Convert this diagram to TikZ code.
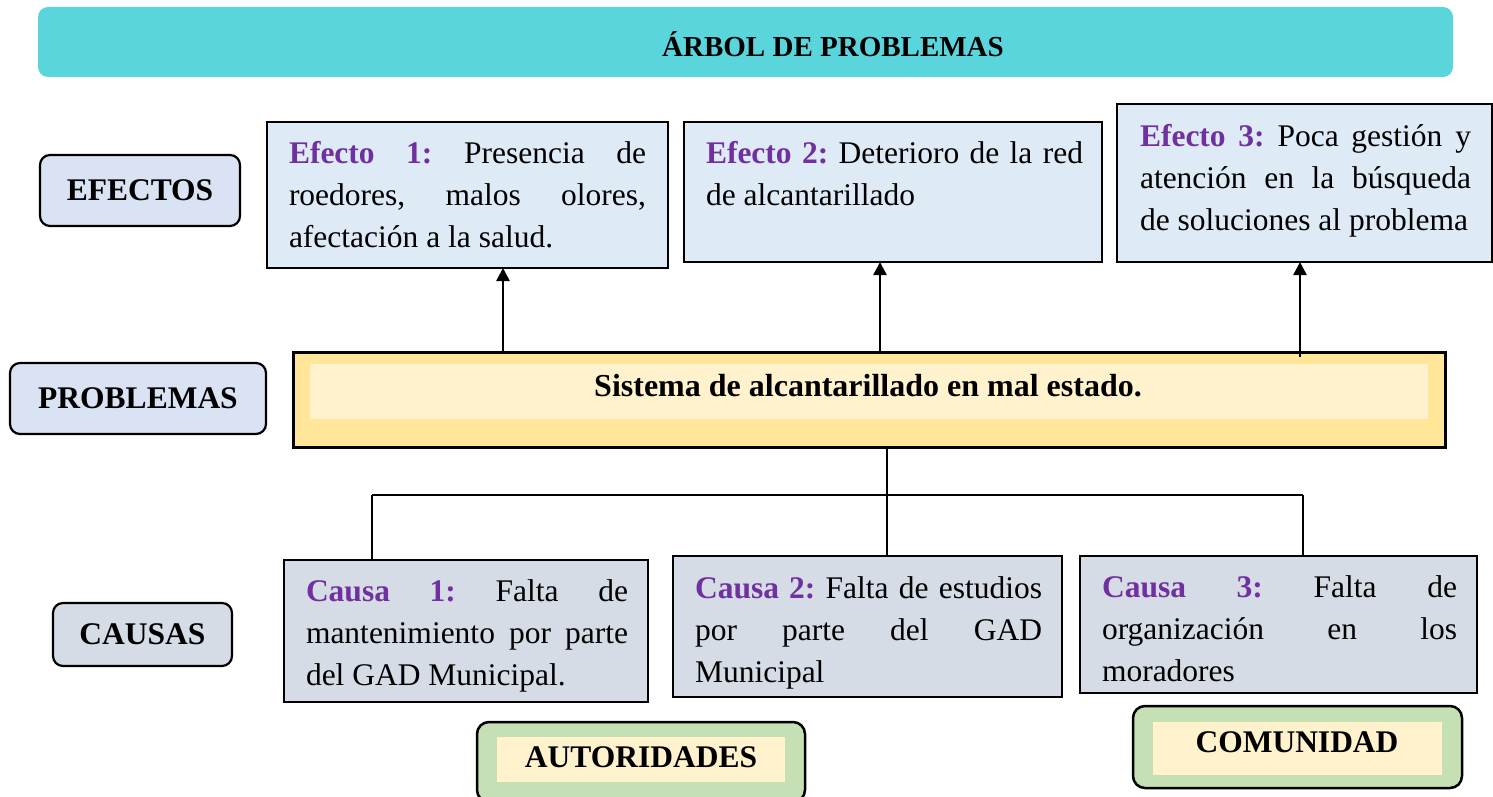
\documentclass[tikz,border=0pt]{standalone}
\usepackage{fontspec}
\setmainfont{Liberation Serif}
\usetikzlibrary{arrows.meta,calc}
\definecolor{titlec}{HTML}{5BD5DC}
\definecolor{lblue}{HTML}{DAE3F3}
\definecolor{effc}{HTML}{DEEBF7}
\definecolor{causc}{HTML}{D6DCE5}
\definecolor{yelo}{HTML}{FFE699}
\definecolor{yeli}{HTML}{FFF2CC}
\definecolor{grn}{HTML}{C5E0B4}
\definecolor{purp}{HTML}{7030A0}
\frenchspacing
\begin{document}
\begin{tikzpicture}[x=1pt,y=-1pt,
  every node/.style={inner sep=0pt, outer sep=0pt},
  fnt/.style={font=\fontsize{31.5}{42}\selectfont},
  labbox/.style={draw, line width=2.2pt, rounded corners=10pt, fill=lblue, font=\fontsize{31.5}{42}\selectfont\bfseries},
  effbox/.style={draw, line width=2.5pt, fill=effc},
  causbox/.style={draw, line width=2.5pt, fill=causc},
  txt/.style={fnt, align=justify, anchor=north west},
  grnbox/.style={draw, line width=2.5pt, rounded corners=12pt, fill=grn},
  inbox/.style={fill=yeli},
  arr/.style={line width=2.5pt, -{Triangle[width=13pt,length=13pt]}},
  conn/.style={line width=2.5pt}
]
\useasboundingbox (0,0) rectangle (1493,797);
\clip (0,0) rectangle (1493,797);
\fill[white] (0,0) rectangle (1493,797);

% title
\node[fill=titlec, rounded corners=10pt, minimum width=1415pt, minimum height=70pt] (title) at (745.5,42) {};
\node[font=\fontsize{29}{34}\selectfont\bfseries] (titletxt) at (833,44) {ÁRBOL DE PROBLEMAS};

% left labels
\node[labbox, minimum width=200pt, minimum height=71pt] (lefe) at (140,190.5) {EFECTOS};
\node[labbox, minimum width=256pt, minimum height=71pt] (lpro) at (138,398.5) {PROBLEMAS};
\node[labbox, fill=causc, minimum width=179pt, minimum height=63pt] (lcau) at (142.5,634.5) {CAUSAS};

% effects
\node[effbox, minimum width=401pt, minimum height=146pt] (e1) at (467.5,195) {};
\node[effbox, minimum width=418pt, minimum height=140pt] (e2) at (893,192) {};
\node[effbox, minimum width=375pt, minimum height=158pt] (e3) at (1304.5,183) {};
\node[txt, text width=357pt] (e1t) at (289,141.5) {\textcolor{purp}{\textbf{Efecto 1:}} Presencia de\linebreak roedores, malos olores,\linebreak afectación a la salud.};
\node[txt, text width=377pt] (e2t) at (706,141.5) {\textcolor{purp}{\textbf{Efecto 2:}} Deterioro de la red\linebreak de alcantarillado};
\node[txt, text width=331pt] (e3t) at (1140,124) {\textcolor{purp}{\textbf{Efecto 3:}} Poca gestión y\linebreak atención en la búsqueda\linebreak de soluciones al problema};

% problem
\node[draw, line width=3pt, fill=yelo, minimum width=1152pt, minimum height=95pt] (prob) at (869,399.5) {};
\node[inbox, minimum width=1118pt, minimum height=55pt] (probin) at (869,391.5) {};
\node[font=\fontsize{32}{38}\selectfont\bfseries] (probt) at (868,386) {Sistema de alcantarillado en mal estado.};

% causes
\node[causbox, minimum width=364pt, minimum height=142pt] (c1) at (466,631) {};
\node[causbox, minimum width=389pt, minimum height=141pt] (c2) at (867.5,626.5) {};
\node[causbox, minimum width=397pt, minimum height=137pt] (c3) at (1278.5,624.5) {};
\node[txt, text width=322pt] (c1t) at (306,580) {\textcolor{purp}{\textbf{Causa 1:}} Falta de\linebreak mantenimiento por parte\linebreak del GAD Municipal.};
\node[txt, text width=347pt] (c2t) at (695,577) {\textcolor{purp}{\textbf{Causa 2:}} Falta de estudios\linebreak por parte del GAD\linebreak Municipal};
\node[txt, text width=355pt] (c3t) at (1102,576) {\textcolor{purp}{\textbf{Causa 3:}} Falta de\linebreak organización en los\linebreak moradores};

% bottom groups
\node[grnbox, minimum width=328pt, minimum height=80pt] (aut) at (641,762) {};
\node[inbox, minimum width=288pt, minimum height=45pt] (autin) at (641,759.5) {};
\node[font=\fontsize{31.5}{38}\selectfont\bfseries] (autt) at (641,757) {AUTORIDADES};
\node[grnbox, minimum width=329pt, minimum height=82pt] (com) at (1297.5,747) {};
\node[inbox, minimum width=289pt, minimum height=53pt] (comin) at (1297.5,748.5) {};
\node[font=\fontsize{31.5}{38}\selectfont\bfseries] (comt) at (1297,742) {COMUNIDAD};

% arrows from problem to effects
\coordinate (a1) at (503,351);
\coordinate (a2) at (880,351);
\coordinate (a3) at (1300,357);
\draw[arr] (a1) -- (a1 |- e1.south);
\draw[arr] (a2) -- (a2 |- e2.south);
\draw[arr] (a3) -- (a3 |- e3.south);

% tree to causes
\coordinate (j) at (887,495);
\coordinate (jl) at (372,495);
\coordinate (jr) at (1303,495);
\draw[conn] (j |- prob.south) -- (j);
\draw[conn] (jl) -- (jr);
\draw[conn] (jl) -- (jl |- c1.north);
\draw[conn] (j) -- (j |- c2.north);
\draw[conn] (jr) -- (jr |- c3.north);
\end{tikzpicture}
\end{document}
